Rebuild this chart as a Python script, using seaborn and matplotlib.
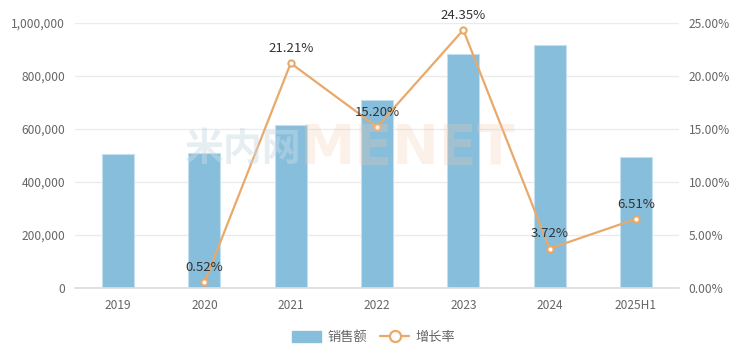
import numpy as np
import pandas as pd
import seaborn as sns
import matplotlib.pyplot as plt
from matplotlib.lines import Line2D
from matplotlib.patches import Patch
from matplotlib.ticker import FuncFormatter

years = ["2019", "2020", "2021", "2022", "2023", "2024", "2025H1"]
sales = [506000, 508000, 616000, 710000, 884000, 918000, 494000]
growth = [np.nan, 0.52, 21.21, 15.20, 24.35, 3.72, 6.51]

bar_color = "#86bedb"
line_color = "#e9a96a"
text_color = "#666666"

sns.set_theme(style="white")
plt.rcParams["font.family"] = ["Noto Sans CJK SC", "DejaVu Sans"]

df = pd.DataFrame({"year": years, "sales": sales, "growth": growth})

fig = plt.figure(figsize=(7.47, 3.6), dpi=100)
ax = fig.add_axes([0.1004, 0.2, 0.8086, 0.736])

sns.barplot(data=df, x="year", y="sales", order=years, color=bar_color,
            saturation=1, width=0.37, edgecolor="#c4e0ee", linewidth=0.8, ax=ax)
ax.set_ylim(0, 1000000)
ax.set_yticks(np.arange(0, 1000001, 200000))
ax.yaxis.set_major_formatter(FuncFormatter(lambda v, p: f"{int(v):,}"))
ax.grid(axis="y", color="#ebebeb", linewidth=1)
ax.set_axisbelow(True)
for s in ["top", "right", "left"]:
    ax.spines[s].set_visible(False)
ax.spines["bottom"].set_color("#dddddd")
ax.set_xlabel("")
ax.set_ylabel("")
ax.tick_params(axis="both", length=0, labelsize=8.6, colors=text_color, pad=8)
ax.tick_params(axis="y", pad=7)

# watermark
fig.text(0.402, 0.585, "米内网", fontsize=28, fontweight="bold", color="#c9dbe4",
         alpha=0.45, ha="right", va="center")
fig.text(0.402, 0.585, "MENET", fontsize=40, fontweight="bold", color="#f6c9a8",
         alpha=0.25, ha="left", va="center", family="DejaVu Sans")

ax2 = ax.twinx()
sns.pointplot(data=df, x="year", y="growth", order=years, color=line_color,
              markers="o", linewidth=1.6, markersize=4.5, errorbar=None,
              markerfacecolor="white", markeredgewidth=1.5, ax=ax2)
ax2.set_xlim(ax.get_xlim())
ax2.set_ylim(0, 25)
ax2.set_yticks(np.arange(0, 25.01, 5))
ax2.yaxis.set_major_formatter(FuncFormatter(lambda v, p: f"{v:.2f}%"))
for s in ["top", "right", "left", "bottom"]:
    ax2.spines[s].set_visible(False)
ax2.set_ylabel("")
ax2.tick_params(axis="y", length=0, labelsize=8.6, colors=text_color, pad=7)

for i, g in enumerate(growth):
    if np.isnan(g):
        continue
    ax2.annotate(f"{g:.2f}%", (i, g), xytext=(0, 6), textcoords="offset points",
                 ha="center", va="bottom", fontsize=9.5, color="#333333")

handles = [
    Patch(facecolor=bar_color, edgecolor=bar_color, label="销售额"),
    Line2D([0], [0], color=line_color, linewidth=1.6, marker="o", markersize=8,
           markerfacecolor="white", markeredgewidth=1.6, label="增长率"),
]
fig.legend(handles=handles, loc="center", bbox_to_anchor=(0.5, 0.063), ncol=2,
           frameon=False, fontsize=9.5, labelcolor=text_color, handlelength=2.2,
           handleheight=1.0, columnspacing=1.0, handletextpad=0.5)

fig.savefig("out.png", dpi=100)
